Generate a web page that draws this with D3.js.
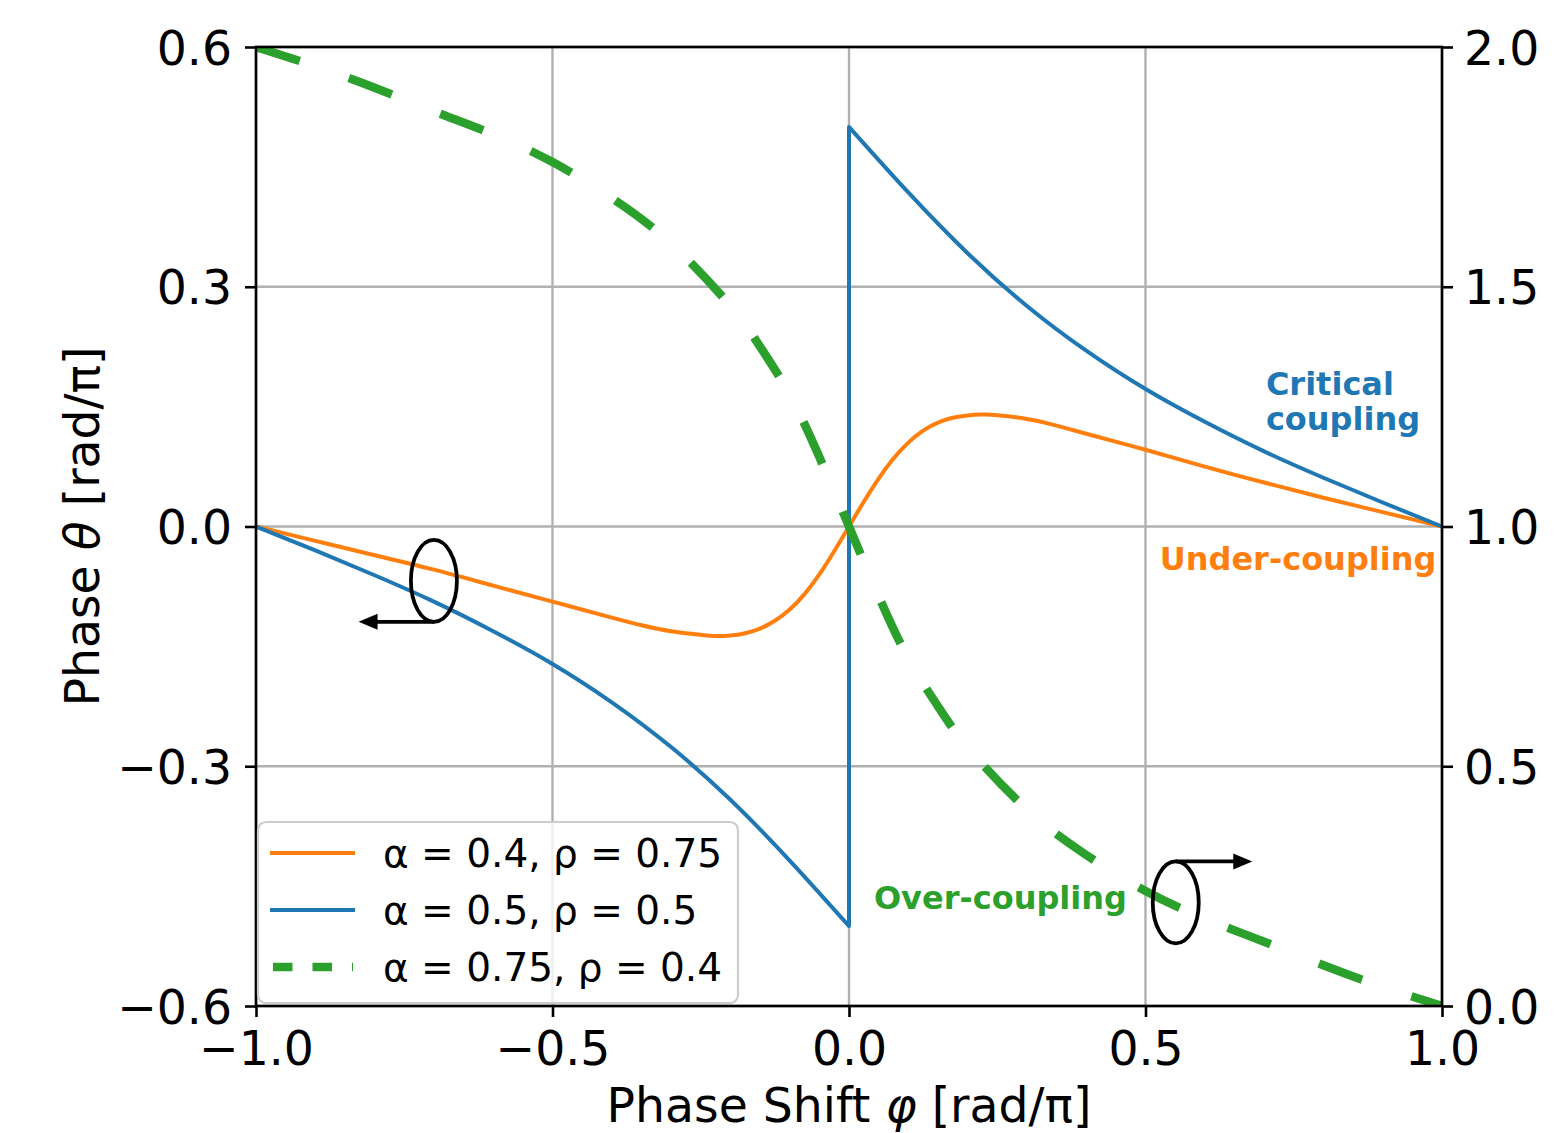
<!DOCTYPE html>
<html>
<head>
<meta charset="utf-8">
<script src="https://cdn.jsdelivr.net/npm/d3@7"></script>
<style>
body { margin: 0; background: #fff; }
svg text { font-family: "DejaVu Sans", sans-serif; }
</style>
</head>
<body>
<svg id="chart" width="1557" height="1133"></svg>
<script>
// values, phase shift phi and phase theta in rad/pi
var orangePhi = [-1.0, -0.9, -0.8, -0.7, -0.6, -0.5, -0.4, -0.35, -0.3, -0.25, -0.225, -0.2, -0.175, -0.15, -0.125, -0.1, -0.075, -0.05, -0.025, 0.0,
                 0.025, 0.05, 0.075, 0.1, 0.125, 0.15, 0.175, 0.2, 0.225, 0.25, 0.3, 0.35, 0.4, 0.5, 0.6, 0.7, 0.8, 0.9, 1.0];
var orangeTheta = [0.0, -0.018, -0.036, -0.054, -0.074, -0.094, -0.114, -0.1235, -0.131, -0.1355, -0.137, -0.1364, -0.1335, -0.1277, -0.118, -0.104, -0.0846, -0.060, -0.031, 0.0,
                   0.031, 0.060, 0.085, 0.105, 0.120, 0.130, 0.136, 0.139, 0.140, 0.1393, 0.1345, 0.1262, 0.116, 0.096, 0.075, 0.055, 0.036, 0.018, 0.0];

// blue jumps at phi = 0, so 0 appears twice
var bluePhi = [-1.0, -0.9, -0.8, -0.7, -0.6, -0.5, -0.4, -0.3, -0.2, -0.1, 0.0, 0.0, 0.1, 0.2, 0.3, 0.4, 0.5, 0.6, 0.7, 0.8, 0.9, 1.0];
var blueTheta = [0.0, -0.030, -0.061, -0.094, -0.131, -0.172, -0.220, -0.276, -0.342, -0.418, -0.5, 0.5, 0.418, 0.342, 0.276, 0.220, 0.172, 0.131, 0.094, 0.061, 0.030, 0.0];

// green is on the right axis
var greenPhi = [-1.0, -0.9, -0.8, -0.7, -0.6, -0.5, -0.4, -0.3, -0.2, -0.15, -0.1, -0.05, 0.0, 0.05, 0.1, 0.15, 0.2, 0.3, 0.4, 0.5, 0.6, 0.7, 0.8, 0.9, 1.0];
var greenTheta = [2.0, 1.960, 1.915, 1.866, 1.818, 1.760, 1.685, 1.590, 1.460, 1.375, 1.275, 1.145, 1.0, 0.855, 0.725, 0.625, 0.540, 0.410, 0.315, 0.240, 0.182, 0.134, 0.085, 0.040, 0.0];

var xTicks = [-1.0, -0.5, 0.0, 0.5, 1.0];
var leftTicks = [-0.6, -0.3, 0.0, 0.3, 0.6];
var rightTicks = [0.0, 0.5, 1.0, 1.5, 2.0];
var seriesNames = ["α = 0.4, ρ = 0.75", "α = 0.5, ρ = 0.5", "α = 0.75, ρ = 0.4"];

var orange = "#ff7f0e", blue = "#1f77b4", green = "#2ca02c";

var margin = {top: 47, left: 256};
var innerW = 1442 - 256, innerH = 1006 - 47;

var svg = d3.select("#chart");
var g = svg.append("g").attr("transform", "translate(" + margin.left + "," + margin.top + ")");

var x = d3.scaleLinear().domain([-1, 1]).range([0, innerW]);
var yL = d3.scaleLinear().domain([-0.6, 0.6]).range([innerH, 0]);
var yR = d3.scaleLinear().domain([0, 2]).range([innerH, 0]);
var fmt = d3.format(".1f");

svg.append("defs").append("clipPath").attr("id", "plotclip")
  .append("rect").attr("width", innerW).attr("height", innerH);

// grid
g.append("g").selectAll("line").data(xTicks).enter().append("line")
  .attr("x1", d => x(d)).attr("x2", d => x(d)).attr("y1", 0).attr("y2", innerH)
  .attr("stroke", "#b0b0b0").attr("stroke-width", 2.4);
g.append("g").selectAll("line").data(leftTicks).enter().append("line")
  .attr("y1", d => yL(d)).attr("y2", d => yL(d)).attr("x1", 0).attr("x2", innerW)
  .attr("stroke", "#b0b0b0").attr("stroke-width", 2.4);

function pts(xs, ys) {
  return xs.map(function(v, i){ return [v, ys[i]]; });
}

// one path, broken into smooth pieces wherever phi repeats (the jump)
function pathFor(p, ys) {
  var line = d3.line().x(d => x(d[0])).y(d => ys(d[1])).curve(d3.curveNatural);
  var segs = [[p[0]]];
  for (var i = 1; i < p.length; i++) {
    if (p[i][0] === p[i-1][0]) segs.push([p[i]]);
    else segs[segs.length-1].push(p[i]);
  }
  return segs.map(function(s, i){
    var d = line(s);
    return i ? "L" + d.slice(1) : d;
  }).join("");
}

var plot = g.append("g").attr("clip-path", "url(#plotclip)");

plot.append("path").attr("d", pathFor(pts(orangePhi, orangeTheta), yL))
  .attr("fill", "none").attr("stroke", orange).attr("stroke-width", 4)
  .attr("stroke-linejoin", "round").attr("stroke-linecap", "square");

plot.append("path").attr("d", pathFor(pts(bluePhi, blueTheta), yL))
  .attr("fill", "none").attr("stroke", blue).attr("stroke-width", 4)
  .attr("stroke-linejoin", "round").attr("stroke-linecap", "square");

plot.append("path").attr("d", pathFor(pts(greenPhi, greenTheta), yR))
  .attr("fill", "none").attr("stroke", green).attr("stroke-width", 8.5)
  .attr("stroke-dasharray", "46 52").attr("stroke-linecap", "butt");

// spines
g.append("rect").attr("width", innerW).attr("height", innerH)
  .attr("fill", "none").attr("stroke", "#000").attr("stroke-width", 2.6);

// axes
var fs = 47.3;
var ax = g.append("g").attr("transform", "translate(0," + innerH + ")")
  .call(d3.axisBottom(x).tickValues(xTicks).tickFormat(fmt).tickSize(11).tickSizeOuter(0).tickPadding(14));
var al = g.append("g")
  .call(d3.axisLeft(yL).tickValues(leftTicks).tickFormat(fmt).tickSize(11).tickSizeOuter(0).tickPadding(13));
var ar = g.append("g").attr("transform", "translate(" + innerW + ",0)")
  .call(d3.axisRight(yR).tickValues(rightTicks).tickFormat(fmt).tickSize(11).tickSizeOuter(0).tickPadding(11));

[ax, al, ar].forEach(function(a){
  a.select(".domain").remove();
  a.selectAll(".tick line").attr("stroke", "#000").attr("stroke-width", 2.6);
  a.selectAll(".tick text").attr("font-size", fs).attr("font-family", "DejaVu Sans").attr("fill", "#000");
});
al.selectAll(".tick text").attr("dy", "0.36em");
ar.selectAll(".tick text").attr("dy", "0.36em");

// axis titles
var xt = svg.append("text").attr("x", margin.left + innerW / 2).attr("y", 1122)
  .attr("text-anchor", "middle").attr("font-size", fs).attr("fill", "#000");
xt.append("tspan").text("Phase Shift ");
xt.append("tspan").attr("font-style", "italic").text("φ");
xt.append("tspan").text(" [rad/π]");

var yt = svg.append("text").attr("transform", "translate(99," + (margin.top + innerH / 2) + ") rotate(-90)")
  .attr("text-anchor", "middle").attr("font-size", fs).attr("fill", "#000");
yt.append("tspan").text("Phase ");
yt.append("tspan").attr("font-style", "italic").text("θ");
yt.append("tspan").text(" [rad/π]");

// region labels
var notes = g.append("g").attr("font-size", 32).attr("font-weight", "bold");
var crit = notes.append("text").attr("x", x(0.703)).attr("y", yL(0.165)).attr("fill", blue);
crit.append("tspan").attr("x", x(0.703)).text("Critical");
crit.append("tspan").attr("x", x(0.703)).attr("y", yL(0.121)).text("coupling");
notes.append("text").attr("x", x(0.524)).attr("y", yL(-0.055)).attr("fill", orange).text("Under-coupling");
notes.append("text").attr("x", x(0.042)).attr("y", yL(-0.479)).attr("fill", green).text("Over-coupling");

// ellipse + arrow markers pointing at the axis each curve belongs to
function axisMarker(cx, cy, tipX, up) {
  var m = g.append("g");
  var rx = 23, ry = 41;
  var ay = up ? cy - ry : cy + ry;
  m.append("ellipse").attr("cx", cx).attr("cy", cy).attr("rx", rx).attr("ry", ry)
    .attr("fill", "none").attr("stroke", "#000").attr("stroke-width", 3.8);
  var dir = tipX > cx ? 1 : -1;
  m.append("line").attr("x1", cx).attr("y1", ay).attr("x2", tipX - dir * 16).attr("y2", ay)
    .attr("stroke", "#000").attr("stroke-width", 3.8);
  m.append("path")
    .attr("d", "M" + tipX + "," + ay + "L" + (tipX - dir * 19) + "," + (ay - 8) + "L" + (tipX - dir * 19) + "," + (ay + 8) + "Z")
    .attr("fill", "#000");
}
axisMarker(x(-0.70), yL(-0.068), x(-0.827), false);
axisMarker(x(0.551), yR(0.216), x(0.680), true);

// legend
var leg = g.append("g").attr("transform", "translate(2,775)");
leg.append("rect").attr("width", 480).attr("height", 181).attr("rx", 8)
  .attr("fill", "#fff").attr("fill-opacity", 0.8)
  .attr("stroke", "#cccccc").attr("stroke-width", 2.2);
var legColors = [orange, blue, green];
seriesNames.forEach(function(name, i){
  var ry = 31 + i * 57;
  var ln = leg.append("line").attr("x1", 14).attr("x2", 95).attr("y1", ry).attr("y2", ry)
    .attr("stroke", legColors[i]);
  if (i === 2) ln.attr("stroke-width", 8.5).attr("stroke-dasharray", "19.5 20").attr("x1", 15);
  else ln.attr("stroke-width", 4).attr("stroke-linecap", "square");
  leg.append("text").attr("x", 125).attr("y", ry).attr("dy", "0.36em")
    .attr("font-size", 39).attr("fill", "#000").text(name);
});
</script>
</body>
</html>
